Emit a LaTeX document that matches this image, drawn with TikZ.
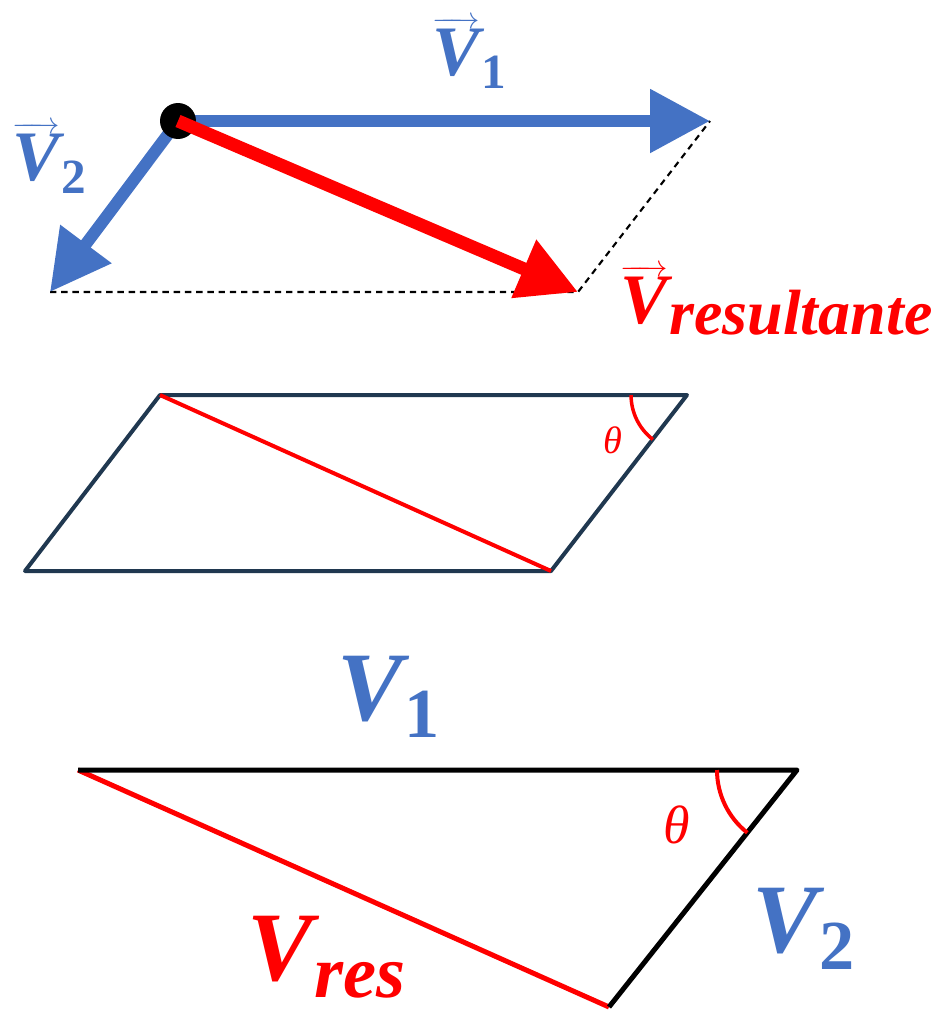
\documentclass[tikz,border=0pt]{standalone}
\usepackage{amsmath}
\usepackage{fontspec}
\newfontfamily\labfont{Liberation Serif}[BoldFont={Liberation Serif Bold}, ItalicFont={Liberation Serif Italic}, BoldItalicFont={Liberation Serif Bold Italic}]
\usetikzlibrary{arrows.meta}
\definecolor{vblue}{HTML}{4472C4}
\definecolor{vred}{HTML}{FF0000}
\definecolor{navy}{HTML}{203850}
\newcommand\topV{\fontsize{40.4}{44}\selectfont\labfont\bfseries\itshape}
\newcommand\topD{\fontsize{28}{30}\selectfont\labfont\bfseries\upshape}
\newcommand\topI{\fontsize{36.4}{40}\selectfont\labfont\bfseries\itshape}
\newcommand\botV{\fontsize{55.9}{60}\selectfont\labfont\bfseries\itshape}
\newcommand\botD{\fontsize{40}{44}\selectfont\labfont\bfseries\upshape}
\newcommand\botI{\fontsize{42.4}{46}\selectfont\labfont\bfseries\itshape}
\tikzset{
  vecline/.style={line width=0.24cm, -{Triangle[length=1.2cm,width=1.22cm]}},
  resline/.style={line width=0.26cm, -{Triangle[length=1.18cm,width=1.2cm]}},
  dashline/.style={line width=1.2pt, dash pattern=on 3.6pt off 2.8pt},
  lab/.style={inner sep=0pt, anchor=base west},
  theta/.style={inner sep=0pt, text=vred},
  arcline/.style={vred, line width=0.07cm}
}
\begin{document}
\begin{tikzpicture}[x=0.02cm, y=-0.02cm]
\useasboundingbox (0,0) rectangle (931,1011);
% ---------- top: vectors ----------
\coordinate (O) at (178,121);
\coordinate (A) at (710,121);
\coordinate (B) at (50,292);
\coordinate (R) at (578,292);
\draw[dashline] (B) -- (R) -- (A);
\draw[vecline, vblue] (O) -- (A);
\draw[vecline, vblue] (O) -- (B);
\node[circle, fill=black, inner sep=0pt, minimum size=0.72cm] (dot) at (O) {};
\draw[resline, vred] (O) -- (R);
\node[lab, text=vblue] (lv1) at (432,75) {\fontsize{17.28}{20}\selectfont$\overrightarrow{\hbox{\topV V}}$\kern1pt\raisebox{-7.4pt}{\topD 1}};
\node[lab, text=vblue] (lv2) at (12,180) {\fontsize{17.28}{20}\selectfont$\overrightarrow{\hbox{\topV V}}$\kern1pt\raisebox{-7.4pt}{\topD 2}};
\node[lab, text=vred] (lvr) at (620,323) {\fontsize{17.28}{20}\selectfont$\overrightarrow{\hbox{\topV V}}$\kern1pt\raisebox{-6.8pt}{\topI resultante}};
% ---------- middle: parallelogram ----------
\coordinate (P1) at (160,395);
\coordinate (P2) at (687,395);
\coordinate (P3) at (551,571);
\coordinate (P4) at (25,571);
\draw[navy, line width=0.08cm, line join=round] (P1) -- (P2) -- (P3) -- (P4) -- cycle;
\draw[vred, line width=0.08cm] (P1) -- (P3);
\coordinate (M1) at (652.8,439.4);
\draw[arcline] (M1) arc[start angle=-127.7, end angle=-180, radius=1.12cm];
\node[theta] (th1) at (613,440) {\fontsize{21.8}{24}\selectfont\labfont\itshape θ};
% ---------- bottom: triangle ----------
\coordinate (T1) at (78,770);
\coordinate (T2) at (797,770);
\coordinate (T3) at (609,1007);
\draw[vred, line width=0.1cm] (T1) -- (T3);
\draw[black, line width=0.1cm, line join=round] (T1) -- (T2) -- (T3);
\coordinate (M2) at (747.3,832.7);
\draw[arcline, line width=0.08cm] (M2) arc[start angle=-128.4, end angle=-180, radius=1.6cm];
\node[theta] (th2) at (677,825) {\fontsize{30.7}{34}\selectfont\labfont\itshape θ};
\node[lab, text=vblue] (bv1) at (337,720) {\botV V\kern1pt\raisebox{-10.2pt}{\botD 1}};
\node[lab, text=vblue] (bv2) at (752,952) {\botV V\kern1pt\raisebox{-10.2pt}{\botD 2}};
\node[lab, text=vred] (bvr) at (247,980) {\botV V\kern1pt\raisebox{-10.2pt}[\height][0pt]{\botI res}};
\end{tikzpicture}
\end{document}
